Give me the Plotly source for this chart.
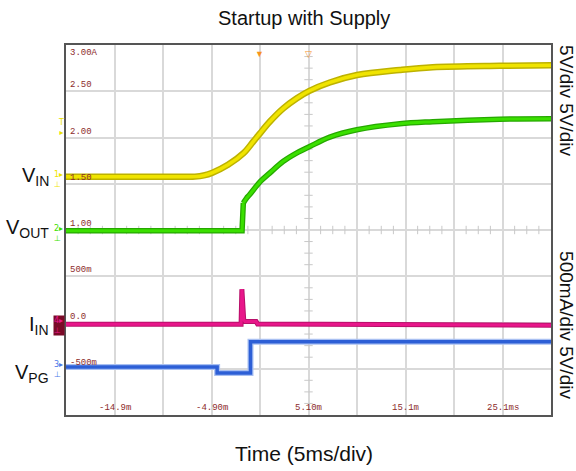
import plotly.graph_objects as go

# ---------------- data (read from the scope capture) ----------------
# time in ms
vin_t = [-19.9, -7.5, -6.6, -5.7, -4.8, -3.2, -1.6, -0.6, 0.1, 1.1, 2.5, 3.9, 5.2, 7.3, 10.1, 14.5, 17.9, 24.8, 30.1]
vin_v = [0.0, 0.0, 0.02, 0.15, 0.45, 1.3, 2.55, 3.8, 4.7, 5.95, 7.4, 8.5, 9.3, 10.2, 11.0, 11.55, 11.85, 12.0, 12.05]

vout_t = [-19.9, -1.75, -1.62, -1.3, -0.98, 0.14, 1.1, 2.47, 3.86, 5.23, 7.29, 10.08, 14.52, 17.92, 24.8, 30.1]
vout_v = [0.0, 0.0, 3.0, 3.5, 3.88, 5.32, 6.23, 7.48, 8.39, 9.10, 10.12, 10.91, 11.56, 11.78, 12.05, 12.1]
vout_step_end = 3  # index where the soft-start ramp begins (after the step)

iin_t = [-19.9, -1.85, -1.77, -1.68, -1.58, -1.45, -0.3, -0.15, 30.1]
iin_a = [-0.02, -0.02, 0.36, 0.12, 0.03, 0.01, 0.01, -0.015, -0.03]

vpg_t = [-19.9, -4.32, -0.88, 30.1]
vpg_v = [0.0, -0.65, 2.73, 2.73]

time_tick_vals = [-14.9, -4.9, 5.1, 15.1, 25.1]
time_tick_text = ["-14.9m", "-4.90m", "5.10m", "15.1m", "25.1ms"]
amp_tick_vals = [3.0, 2.5, 2.0, 1.5, 1.0, 0.5, 0.0, -0.5]
amp_tick_text = ["3.00A", "2.50", "2.00", "1.50", "1.00", "500m", "0.0", "-500m"]

trigger_t = 0.0
trigger_level_v = 4.65
center_t = 5.1

# scope geometry
X0, XDIV, NX = -19.9, 5.0, 10
A0, ADIV, NY = -1.0, 0.5, 8

# channel colours
YEL, YEL_E = "#f0e400", "#bdb200"
GRN, GRN_E = "#3be000", "#26a800"
MAG, MAG_E = "#e8168a", "#b8106a"
BLU, BLU_E = "#2d5fd6", "#a9c0f2"
LABEL_RED = "#8c2b2b"

fig = go.Figure()

# minor ticks on centre lines
cx = X0 + XDIV * NX / 2
cy = A0 + ADIV * NY / 2
hx = [X0 + XDIV * k / 4 for k in range(1, NX * 4) if k % 4]
vy = [A0 + ADIV * k / 4 for k in range(1, NY * 4) if k % 4]
fig.add_trace(go.Scatter(x=hx, y=[cy] * len(hx), mode="markers",
                         marker=dict(symbol="line-ns", size=6, line=dict(width=1, color="#c8c8c8")),
                         hoverinfo="skip"))
fig.add_trace(go.Scatter(x=[cx] * len(vy), y=vy, mode="markers",
                         marker=dict(symbol="line-ew", size=6, line=dict(width=1, color="#c8c8c8")),
                         hoverinfo="skip"))


def chan(t, v, axis, col, edge, w_out, w_in, shape="linear"):
    fig.add_trace(go.Scatter(x=t, y=v, yaxis=axis, mode="lines",
                             line=dict(color=edge, width=w_out, shape=shape), hoverinfo="skip"))
    fig.add_trace(go.Scatter(x=t, y=v, yaxis=axis, mode="lines",
                             line=dict(color=col, width=w_in, shape=shape), hoverinfo="skip"))


chan(vpg_t, vpg_v, "y4", BLU, BLU_E, 6, 3.5, "hv")
chan(iin_t, iin_a, "y", MAG, MAG_E, 5, 3)
chan(vout_t[:vout_step_end], vout_v[:vout_step_end], "y3", GRN, GRN_E, 5.5, 3)
chan(vout_t[vout_step_end - 1:], vout_v[vout_step_end - 1:], "y3", GRN, GRN_E, 5.5, 3, "spline")
chan(vin_t, vin_v, "y2", YEL, YEL_E, 6.5, 3.5, "spline")

ann = []
# scope scale labels
for v, s in zip(time_tick_vals, time_tick_text):
    ann.append(dict(x=v, y=A0, xref="x", yref="y", text=s, showarrow=False,
                    xanchor="center", yanchor="bottom", yshift=0,
                    font=dict(family="Liberation Mono", size=9, color=LABEL_RED)))
for v, s in zip(amp_tick_vals, amp_tick_text):
    top = v == max(amp_tick_vals)
    ann.append(dict(x=0, y=v, xref="paper", yref="y", text=s, showarrow=False,
                    xanchor="left", yanchor="top" if top else "bottom", xshift=2,
                    yshift=-1,
                    font=dict(family="Liberation Mono", size=9, color=LABEL_RED)))

# trigger markers on top border
ann.append(dict(x=trigger_t, y=1, xref="x", yref="paper", text="▼", showarrow=False,
                xanchor="center", yanchor="top", font=dict(size=9, color="#f7941d")))
ann.append(dict(x=center_t, y=1, xref="x", yref="paper", text="▽", showarrow=False,
                xanchor="center", yanchor="top", font=dict(size=9, color="#f7941d")))

# channel ground markers at left edge
markers = [("1", "y2", YEL, None), ("2", "y3", GRN, None), ("4", "y", MAG, "#7a0a28"), ("3", "y4", "#4a78e8", None)]
for num, ax, col, bg in markers:
    ann.append(dict(x=0, y=0, xref="paper", yref=ax, text=num + "▸<br>⊥ ", showarrow=False,
                    xanchor="right", yanchor="middle", xshift=-1, yshift=-3, align="left",
                    font=dict(family="DejaVu Sans", size=8, color=col),
                    bgcolor=bg, borderpad=0))
ann.append(dict(x=0, y=trigger_level_v, xref="paper", yref="y2", text="T<br>▸", showarrow=False,
                xanchor="right", yanchor="bottom", xshift=0, yshift=-5,
                font=dict(family="DejaVu Sans", size=8, color="#e8e000")))

# channel names
names = [("V<sub>IN</sub>", "y2", 0), ("V<sub>OUT</sub>", "y3", 2), ("I<sub>IN</sub>", "y", -3), ("V<sub>PG</sub>", "y4", -7)]
for txt, ax, sh in names:
    ann.append(dict(x=0, y=0, xref="paper", yref=ax, text=txt, showarrow=False,
                    xanchor="right", yanchor="middle", xshift=-15, yshift=sh,
                    font=dict(family="Liberation Sans", size=20, color="#111111")))

# right side scale text
ann.append(dict(x=1.033, y=0.851, xref="paper", yref="paper", text="5V/div 5V/div", textangle=90,
                xanchor="center", yanchor="middle",
                showarrow=False, font=dict(family="Liberation Sans", size=19, color="#111111")))
ann.append(dict(x=1.033, y=0.243, xref="paper", yref="paper", text="500mA/div 5V/div", textangle=90,
                xanchor="center", yanchor="middle",
                showarrow=False, font=dict(family="Liberation Sans", size=19, color="#111111")))

# titles
ann.append(dict(x=0.491, y=1.073, xref="paper", yref="paper", text="Startup with Supply",
                xanchor="center", yanchor="middle",
                showarrow=False, font=dict(family="Liberation Sans", size=20, color="#111111")))
ann.append(dict(x=0.491, y=-0.1054, xref="paper", yref="paper", text="Time (5ms/div)",
                xanchor="center", yanchor="middle",
                showarrow=False, font=dict(family="Liberation Sans", size=21, color="#111111")))

grid_x = [X0 + XDIV * k for k in range(NX + 1)]
grid_y = [A0 + ADIV * k for k in range(NY + 1)]

fig.update_layout(
    width=576, height=471,
    margin=dict(l=66, r=25, t=45, b=56),
    paper_bgcolor="white", plot_bgcolor="white",
    showlegend=False,
    annotations=ann,
    xaxis=dict(range=[X0, X0 + XDIV * NX], tickvals=grid_x, showticklabels=False, ticks="",
               showgrid=True, gridcolor="#d9d9d9", gridwidth=1.5, zeroline=False,
               showline=True, linecolor="#555555", linewidth=1.5, mirror=True),
    yaxis=dict(range=[A0, A0 + ADIV * NY], tickvals=grid_y, showticklabels=False, ticks="",
               showgrid=True, gridcolor="#d9d9d9", gridwidth=1.5, zeroline=False,
               showline=True, linecolor="#555555", linewidth=1.5, mirror=True),
    yaxis2=dict(range=[-25.75, 14.25], overlaying="y", visible=False),
    yaxis3=dict(range=[-19.925, 20.075], overlaying="y", visible=False),
    yaxis4=dict(range=[-5.2, 34.8], overlaying="y", visible=False),
)

fig.write_html("out.html", config={"displayModeBar": False},
               post_script="document.body.style.margin='0';")
